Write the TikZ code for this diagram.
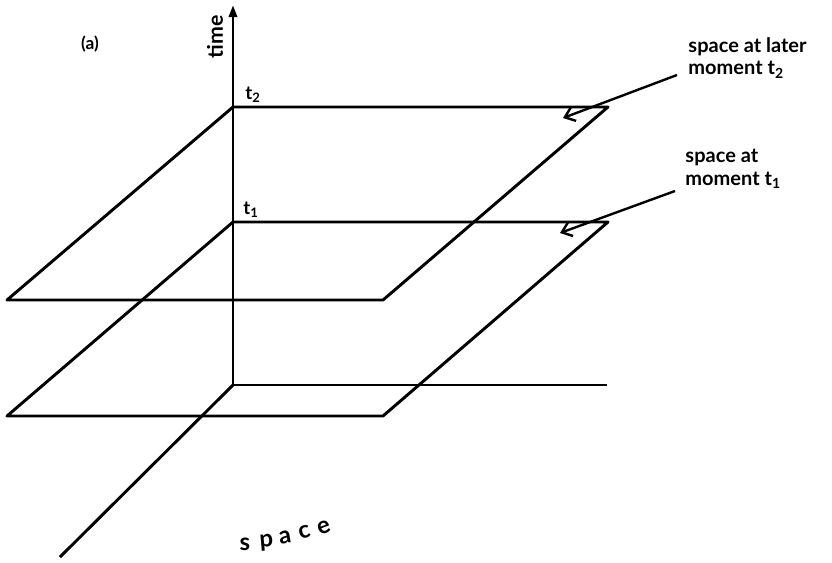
\documentclass[tikz,border=0pt]{standalone}
\usepackage{fontspec}
\setmainfont{Lato}
\usetikzlibrary{arrows.meta}
\begin{document}
\begin{tikzpicture}[x=0.75pt,y=-0.75pt,line width=2.2pt,line join=round,
  lbl/.style={font=\bfseries\fontsize{15}{17}\selectfont,align=left,inner sep=0pt},
  tl/.style={font=\bfseries\fontsize{14}{16}\selectfont,inner sep=0pt},
  lt/.style={font=\bfseries\fontsize{18}{20}\selectfont,inner sep=0pt,anchor=base},
  pointer/.style={line width=1.8pt,-{Straight Barb[length=7pt,width=11pt,line width=1.8pt]}}]
\useasboundingbox (0,0) rectangle (832,562);
% axes
\coordinate (O) at (233,385);
\coordinate (Ttop) at (233,5);
\coordinate (Xend) at (607,385);
\coordinate (Send) at (60,557);
\draw (O) -- (Xend);
\draw (O) -- (Send);
\draw[-{Triangle[length=9pt,width=6pt]}] (O) -- (Ttop);
% plane at t2
\coordinate (A2) at (233,107);
\coordinate (B2) at (608,107);
\coordinate (C2) at (383,300);
\coordinate (D2) at (7,300);
\draw (A2) -- (B2) -- (C2) -- (D2) -- cycle;
% plane at t1
\coordinate (A1) at (233,222);
\coordinate (B1) at (608,222);
\coordinate (C1) at (383,416);
\coordinate (D1) at (7,416);
\draw (A1) -- (B1) -- (C1) -- (D1) -- cycle;
% labels
\node[tl,font=\bfseries\fontsize{13}{15}\selectfont] (a) at (90,44) {(a)};
\node[tl,rotate=90,font=\bfseries\fontsize{16}{18}\selectfont] (time) at (215,37) {time};
\node[tl,anchor=south west] (t2) at (244,104) {t\textsubscript{2}};
\node[tl,anchor=south west] (t1) at (242,219) {t\textsubscript{1}};
\node[lbl,anchor=west] (L2) at (687,58) {space at later\\moment t\textsubscript{2}};
\node[lbl,anchor=west] (L1) at (684,169) {space at\\moment t\textsubscript{1}};
\coordinate (p2s) at (677,75);
\coordinate (p2e) at (563,118);
\coordinate (p1s) at (675,191);
\coordinate (p1e) at (560,233);
\draw[pointer] (p2s) -- (p2e);
\draw[pointer] (p1s) -- (p1e);
% "space" along the axis
\node[lt,rotate=0]  (s1) at (245,550) {s};
\node[lt,rotate=5]  (s2) at (267,547) {p};
\node[lt,rotate=10] (s3) at (286,543) {a};
\node[lt,rotate=15] (s4) at (306,538) {c};
\node[lt,rotate=20] (s5) at (326,533) {e};
\end{tikzpicture}
\end{document}
